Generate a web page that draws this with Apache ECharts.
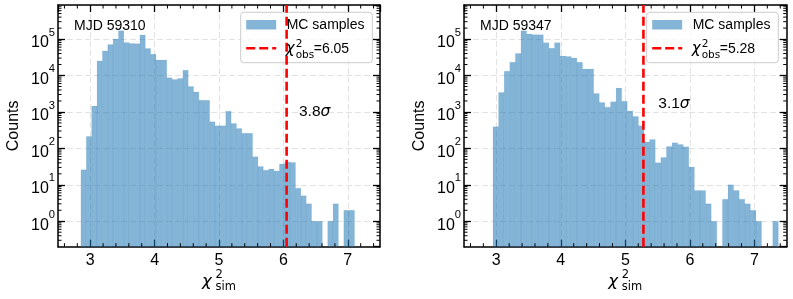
<!DOCTYPE html>
<html><head><meta charset="utf-8">
<script src="https://cdn.jsdelivr.net/npm/echarts@6/dist/echarts.min.js"></script>
<style>html,body{margin:0;padding:0;background:#fff}#c{width:793px;height:299px}</style>
</head><body><div id="c"></div>
<script>
// ---------------- data ----------------
const xTickValues = [3, 4, 5, 6, 7];
const panelTitles = ['MJD 59310', 'MJD 59347'];
const chiObs = [6.05, 5.28];
const chiObsLabels = ['=6.05', '=5.28'];
const sigmaLabels = ['3.8', '3.1'];
const legendPatchLabel = 'MC samples';

// histogram of panel 1 (bins: start, width, counts)
const binStartL = 2.856;
const binWidthL = 0.0833;
const countsL = [26, 210, 1450, 25000, 47000, 71000, 100000, 169000, 81000, 76000,
  74000, 129000, 55000, 38000, 26500, 26500, 8700, 7800, 8300, 14000,
  5000, 3500, 2100, 2100, 540, 415, 415, 1050, 480, 350,
  260, 260, 59, 32, 25, 27, 24, 37, 42, 41,
  8, 5, 3, 1, 1, 0, 1, 3, 0, 2, 2];

// histogram of panel 2
const binStartR = 2.949;
const binWidthR = 0.0867;
const countsR = [390, 3400, 13000, 23000, 40000, 168000, 138000, 132000, 132000, 79000,
  56000, 79000, 34000, 33000, 30000, 23000, 15000, 15000, 3200, 1800,
  1350, 1900, 4500, 1950, 1060, 750, 420, 150, 175, 40,
  56, 112, 142, 128, 110, 31, 7, 7, 3, 1,
  0, 4, 10, 7, 4, 3, 2, 1, 0, 0, 1];

// ---------------- layout ----------------
const X_MIN = 2.5, X_MAX = 7.5, Y_MIN = 0.2, Y_MAX = 8.6e5;
const FONT = '"Liberation Sans", Arial, sans-serif';
const MATH = '"DejaVu Sans", sans-serif';
const BAR_FILL = 'rgba(31,119,180,0.55)';
const grids = [
  { left: 58, top: 5, width: 322, height: 241.7 },
  { left: 464, top: 5, width: 322.7, height: 241.7 }
];
const hists = [
  { start: binStartL, width: binWidthL, counts: countsL },
  { start: binStartR, width: binWidthR, counts: countsR }
];

// minor tick positions
const yMinor = [];
for (let n = -1; n <= 5; n++) for (let k = 2; k <= 9; k++) {
  const v = k * Math.pow(10, n);
  if (v > Y_MIN && v < Y_MAX) yMinor.push(v);
}
const xMinor = [];
for (let i = 13; i <= 37; i++) if (i % 5 !== 0) xMinor.push(i / 5);

const chart = echarts.init(document.getElementById('c'), null, { renderer: 'canvas' });

const xAxes = [], yAxes = [], series = [], graphic = [];

grids.forEach((g, gi) => {
  const common = {
    gridIndex: gi, type: 'value', min: X_MIN, max: X_MAX, splitNumber: 5,
    axisLine: { show: true, onZero: false, lineStyle: { color: '#000', width: 1.5 } },
    axisTick: { show: true, inside: true, length: 7, lineStyle: { color: '#000', width: 1.3 } },
  };
  xAxes.push(Object.assign({}, common, {
    position: 'bottom',
    axisLabel: { show: true, margin: 6, color: '#000', fontSize: 16, fontFamily: FONT,
      showMinLabel: false, showMaxLabel: false,
      formatter: v => (xTickValues.indexOf(v) >= 0 ? String(v) : '') },
    splitLine: { show: true, lineStyle: { color: '#e2e2e2', width: 1, type: [6, 3] } }
  }));
  xAxes.push(Object.assign({}, common, {
    position: 'top', axisLabel: { show: false }, splitLine: { show: false }
  }));
  const ycommon = {
    gridIndex: gi, type: 'log', logBase: 10, min: Y_MIN, max: Y_MAX, splitNumber: 7,
    axisLine: { show: true, onZero: false, lineStyle: { color: '#000', width: 1.5 } },
    axisTick: { show: true, inside: true, length: 7, lineStyle: { color: '#000', width: 1.3 } },
  };
  yAxes.push(Object.assign({}, ycommon, {
    position: 'left',
    name: 'Counts', nameLocation: 'middle', nameGap: 36, nameRotate: 90,
    nameTextStyle: { color: '#000', fontSize: 16, fontFamily: FONT },
    axisLabel: { show: true, margin: 3, color: '#000', fontFamily: FONT,
      showMinLabel: false, showMaxLabel: false,
      formatter: v => {
        const e = Math.log10(v);
        if (Math.abs(e - Math.round(e)) > 1e-6) return '';
        return '{b|10}{s|' + Math.round(e) + '}';
      },
      rich: {
        b: { fontSize: 16, fontFamily: FONT, color: '#000', lineHeight: 24, verticalAlign: 'bottom' },
        s: { fontSize: 11.2, fontFamily: FONT, color: '#000', lineHeight: 12, verticalAlign: 'top' }
      }
    },
    splitLine: { show: true, lineStyle: { color: '#e2e2e2', width: 1, type: [6, 3] } }
  }));
  yAxes.push(Object.assign({}, ycommon, {
    position: 'right', axisLabel: { show: false }, splitLine: { show: false }
  }));

  const xa = gi * 2, ya = gi * 2;
  const h = hists[gi];
  const bins = [];
  h.counts.forEach((c, i) => {
    if (c > 0) bins.push([h.start + i * h.width, h.start + (i + 1) * h.width, c]);
  });
  // histogram bars
  series.push({
    type: 'custom', xAxisIndex: xa, yAxisIndex: ya, z: 2, clip: true,
    encode: { x: [0, 1], y: 2 },
    data: bins,
    renderItem: (params, api) => {
      const p0 = api.coord([api.value(0), api.value(2)]);
      const p1 = api.coord([api.value(1), Y_MIN]);
      return { type: 'rect',
        shape: { x: p0[0], y: p0[1], width: p1[0] - p0[0], height: p1[1] - p0[1] },
        style: { fill: BAR_FILL, stroke: 'rgba(31,119,180,0.12)', lineWidth: 0.6 } };
    }
  });
  // observed chi2 line
  series.push({
    type: 'line', xAxisIndex: xa, yAxisIndex: ya, z: 6, symbol: 'none', silent: true,
    data: [[chiObs[gi], Y_MIN], [chiObs[gi], Y_MAX]],
    lineStyle: { color: '#ff0000', width: 2.6, type: [9, 4] }
  });
  // minor ticks (y: log minors, x: 0.2 spacing)
  series.push({
    type: 'custom', xAxisIndex: xa, yAxisIndex: ya, z: 8, silent: true, clip: false,
    encode: { x: 0, y: 1 },
    data: yMinor.map(v => [X_MIN, v]),
    renderItem: (params, api) => {
      const c = params.coordSys;
      const pt = api.coord([X_MIN, api.value(1)]);
      const st = { stroke: '#000', lineWidth: 1 };
      return { type: 'group', children: [
        { type: 'line', shape: { x1: c.x, y1: pt[1], x2: c.x + 3.5, y2: pt[1] }, style: st },
        { type: 'line', shape: { x1: c.x + c.width - 3.5, y1: pt[1], x2: c.x + c.width, y2: pt[1] }, style: st }
      ] };
    }
  });
  series.push({
    type: 'custom', xAxisIndex: xa, yAxisIndex: ya, z: 8, silent: true, clip: false,
    encode: { x: 0, y: 1 },
    data: xMinor.map(v => [v, Y_MIN]),
    renderItem: (params, api) => {
      const c = params.coordSys;
      const pt = api.coord([api.value(0), Y_MIN]);
      const st = { stroke: '#000', lineWidth: 1 };
      return { type: 'group', children: [
        { type: 'line', shape: { x1: pt[0], y1: c.y + c.height, x2: pt[0], y2: c.y + c.height - 3.5 }, style: st },
        { type: 'line', shape: { x1: pt[0], y1: c.y, x2: pt[0], y2: c.y + 3.5 }, style: st }
      ] };
    }
  });

  // ---- annotations (graphic) ----
  const gl = g.left;
  const cx = g.left + g.width / 2;
  graphic.push({ type: 'text', x: gl + 16, y: 25.7, z: 100,
    style: { text: panelTitles[gi], fontSize: 14, fontFamily: FONT, fill: '#000', verticalAlign: 'middle' } });
  const sx = gi === 0 ? 299 : 658.3, sy = gi === 0 ? 111.7 : 104;
  graphic.push({ type: 'text', x: sx, y: sy, z: 100,
    style: { text: sigmaLabels[gi] + '{i|σ}', fontSize: 15.5, fontFamily: FONT, fill: '#000', verticalAlign: 'middle',
      rich: { i: { fontSize: 15.5, fontFamily: MATH, fontStyle: 'italic', fill: '#000' } } } });
  // x axis name chi^2_sim
  graphic.push({ type: 'text', x: cx - 17, y: 282, z: 100,
    style: { text: 'χ', fontSize: 16.5, fontFamily: MATH, fontStyle: 'italic', fill: '#000', verticalAlign: 'middle' } });
  graphic.push({ type: 'text', x: cx - 3.5, y: 275.5, z: 100,
    style: { text: '2', fontSize: 11.5, fontFamily: MATH, fill: '#000', verticalAlign: 'middle' } });
  graphic.push({ type: 'text', x: cx - 3.5, y: 287, z: 100,
    style: { text: 'sim', fontSize: 11.5, fontFamily: MATH, fill: '#000', verticalAlign: 'middle' } });
  // legend
  const lx = gl + 182.7;
  graphic.push({ type: 'rect', z: 3, shape: { x: lx, y: 12.3, width: 131.6, height: 50.4, r: 3 },
    style: { fill: 'rgba(255,255,255,0.8)', stroke: '#cccccc', lineWidth: 1 } });
  graphic.push({ type: 'rect', z: 91, shape: { x: lx + 5.5, y: 20, width: 30, height: 9.5 },
    style: { fill: BAR_FILL } });
  graphic.push({ type: 'text', x: lx + 46, y: 25, z: 91,
    style: { text: legendPatchLabel, fontSize: 14, fontFamily: FONT, fill: '#000', verticalAlign: 'middle' } });
  graphic.push({ type: 'line', z: 91, shape: { x1: lx + 5.5, y1: 48.3, x2: lx + 35.5, y2: 48.3 },
    style: { stroke: '#ff0000', lineWidth: 2.6, lineDash: [9, 4] } });
  graphic.push({ type: 'text', x: lx + 45, y: 49.5, z: 91,
    style: { text: 'χ', fontSize: 15, fontFamily: MATH, fontStyle: 'italic', fill: '#000', verticalAlign: 'middle' } });
  graphic.push({ type: 'text', x: lx + 55, y: 44.5, z: 91,
    style: { text: '2', fontSize: 10.5, fontFamily: MATH, fill: '#000', verticalAlign: 'middle' } });
  graphic.push({ type: 'text', x: lx + 55, y: 55, z: 91,
    style: { text: 'obs', fontSize: 10.5, fontFamily: MATH, fill: '#000', verticalAlign: 'middle' } });
  graphic.push({ type: 'text', x: lx + 73, y: 49.5, z: 91,
    style: { text: chiObsLabels[gi], fontSize: 14, fontFamily: FONT, fill: '#000', verticalAlign: 'middle' } });
});

chart.setOption({
  animation: false,
  backgroundColor: '#fff',
  grid: grids.map(g => Object.assign({ containLabel: false }, g)),
  xAxis: xAxes,
  yAxis: yAxes,
  series: series,
  graphic: graphic
});
</script>
</body></html>
